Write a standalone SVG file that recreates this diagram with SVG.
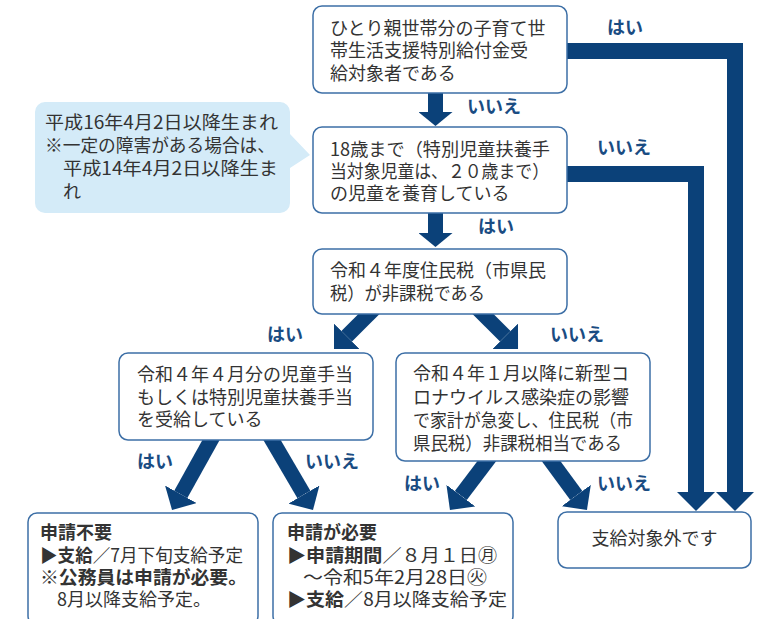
<svg xmlns="http://www.w3.org/2000/svg" width="764" height="619" viewBox="0 0 764 619">
<style>
text{font-family:"Noto Sans CJK JP","Noto Sans",sans-serif;font-size:18px;fill:#333;}
.box{fill:#fff;stroke:#3d6fa6;stroke-width:1.5;}
.lbl{font-weight:bold;fill:#1a4c82;font-size:18px;}
.b{font-weight:bold;}
.conn{fill:none;stroke:#0b4179;stroke-width:15;stroke-linejoin:miter;}
.wide{stroke-width:16;}
</style>
<defs>
<marker id="hd" markerUnits="userSpaceOnUse" markerWidth="20" markerHeight="36" refX="0" refY="18" orient="auto" viewBox="0 0 20 36">
<path d="M0,0 L18,18 L0,36 Z" fill="#0b4179"/>
</marker>
<marker id="hr" markerUnits="userSpaceOnUse" markerWidth="20" markerHeight="38" refX="0" refY="19" orient="auto" viewBox="0 0 20 38">
<path d="M0,0 L19,19 L0,38 Z" fill="#0b4179"/>
</marker>
<marker id="hs" markerUnits="userSpaceOnUse" markerWidth="15" markerHeight="34" refX="0" refY="17" orient="auto" viewBox="0 0 15 34">
<path d="M0,0 L14,17 L0,34 Z" fill="#0b4179"/>
</marker>
</defs>

<g id="connectors">
<path class="conn" d="M435.5,88 V112" marker-end="url(#hs)"/>
<path class="conn" d="M435.5,208 V233" marker-end="url(#hs)"/>
<path class="conn wide" d="M560,51 H735 V492" marker-end="url(#hr)"/>
<path class="conn wide" d="M560,174 H696 V492" marker-end="url(#hr)"/>
<path class="conn" d="M377,306 L346.7,336.3" marker-end="url(#hd)"/>
<path class="conn" d="M475,306 L505.3,336.3" marker-end="url(#hd)"/>
<path class="conn" d="M215.5,432 L180.8,494.3" marker-end="url(#hd)"/>
<path class="conn" d="M267.3,432 L303.9,494.5" marker-end="url(#hd)"/>
<path class="conn" d="M493,453 L460.8,495.6" marker-end="url(#hd)"/>
<path class="conn" d="M545.1,453 L576.3,495.5" marker-end="url(#hd)"/>
<text class="lbl" x="607" y="34">はい</text>
<text class="lbl" x="467" y="113">いいえ</text>
<text class="lbl" x="597" y="154">いいえ</text>
<text class="lbl" x="478" y="233">はい</text>
<text class="lbl" x="267" y="341">はい</text>
<text class="lbl" x="550" y="341">いいえ</text>
<text class="lbl" x="137" y="468">はい</text>
<text class="lbl" x="305" y="468">いいえ</text>
<text class="lbl" x="404" y="490">はい</text>
<text class="lbl" x="597" y="490">いいえ</text>
</g>

<g id="callout">
<path d="M45,102 H280 A10,10 0 0 1 290,112 V134 L310,155 L290,168 V203 A10,10 0 0 1 280,213 H45 A10,10 0 0 1 35,203 V112 A10,10 0 0 1 45,102 Z" fill="#d4ebf8"/>
<text x="45" y="129" textLength="233" lengthAdjust="spacingAndGlyphs">平成16年4月2日以降生まれ</text>
<text x="45" y="152" textLength="230" lengthAdjust="spacingAndGlyphs">※一定の障害がある場合は、</text>
<text x="63" y="175" textLength="215" lengthAdjust="spacingAndGlyphs">平成14年4月2日以降生ま</text>
<text x="63" y="198">れ</text>
</g>

<g id="q1">
<rect class="box" x="313" y="6" width="254" height="87" rx="9"/>
<text x="330" y="35">ひとり親世帯分の子育て世</text>
<text x="330" y="57">帯生活支援特別給付金受</text>
<text x="330" y="80">給対象者である</text>
</g>

<g id="q2">
<rect class="box" x="313" y="127" width="254" height="86" rx="9"/>
<text x="330" y="156" textLength="220" lengthAdjust="spacingAndGlyphs">18歳まで（特別児童扶養手</text>
<text x="330" y="178" textLength="219" lengthAdjust="spacingAndGlyphs">当対象児童は、２０歳まで）</text>
<text x="330" y="200">の児童を養育している</text>
</g>

<g id="q3">
<rect class="box" x="313" y="249" width="254" height="65" rx="9"/>
<text x="330" y="277">令和４年度住民税（市県民</text>
<text x="330" y="300" textLength="155" lengthAdjust="spacingAndGlyphs">税）が非課税である</text>
</g>

<g id="q4">
<rect class="box" x="119" y="353" width="254" height="87" rx="9"/>
<text x="137" y="381">令和４年４月分の児童手当</text>
<text x="137" y="404">もしくは特別児童扶養手当</text>
<text x="137" y="426">を受給している</text>
</g>

<g id="q5">
<rect class="box" x="396" y="353" width="254" height="108" rx="9"/>
<text x="413" y="380">令和４年１月以降に新型コ</text>
<text x="413" y="404">ロナウイルス感染症の影響</text>
<text x="413" y="427" textLength="220" lengthAdjust="spacingAndGlyphs">で家計が急変し、住民税（市</text>
<text x="413" y="450" textLength="209" lengthAdjust="spacingAndGlyphs">県民税）非課税相当である</text>
</g>

<g id="r1">
<rect class="box" x="28" y="513" width="230" height="112" rx="9"/>
<text x="40" y="539" class="b">申請不要</text>
<text x="40" y="562" textLength="203" lengthAdjust="spacingAndGlyphs"><tspan class="b">▶支給</tspan>／7月下旬支給予定</text>
<text x="40" y="584" textLength="207" lengthAdjust="spacingAndGlyphs">※<tspan class="b">公務員は申請が必要。</tspan></text>
<text x="57" y="606">8月以降支給予定。</text>
</g>

<g id="r2">
<rect class="box" x="273" y="513" width="240" height="112" rx="9"/>
<text x="287" y="539" class="b">申請が必要</text>
<text x="287" y="562" textLength="210" lengthAdjust="spacingAndGlyphs"><tspan class="b">▶申請期間</tspan>／８月１日㊊</text>
<text x="303" y="584" textLength="184" lengthAdjust="spacingAndGlyphs">～令和5年2月28日㊋</text>
<text x="287" y="606" textLength="220" lengthAdjust="spacingAndGlyphs"><tspan class="b">▶支給</tspan>／8月以降支給予定</text>
</g>

<g id="r3">
<rect class="box" x="558" y="512" width="193" height="56" rx="9"/>
<text x="654.5" y="545" text-anchor="middle">支給対象外です</text>
</g>
</svg>
